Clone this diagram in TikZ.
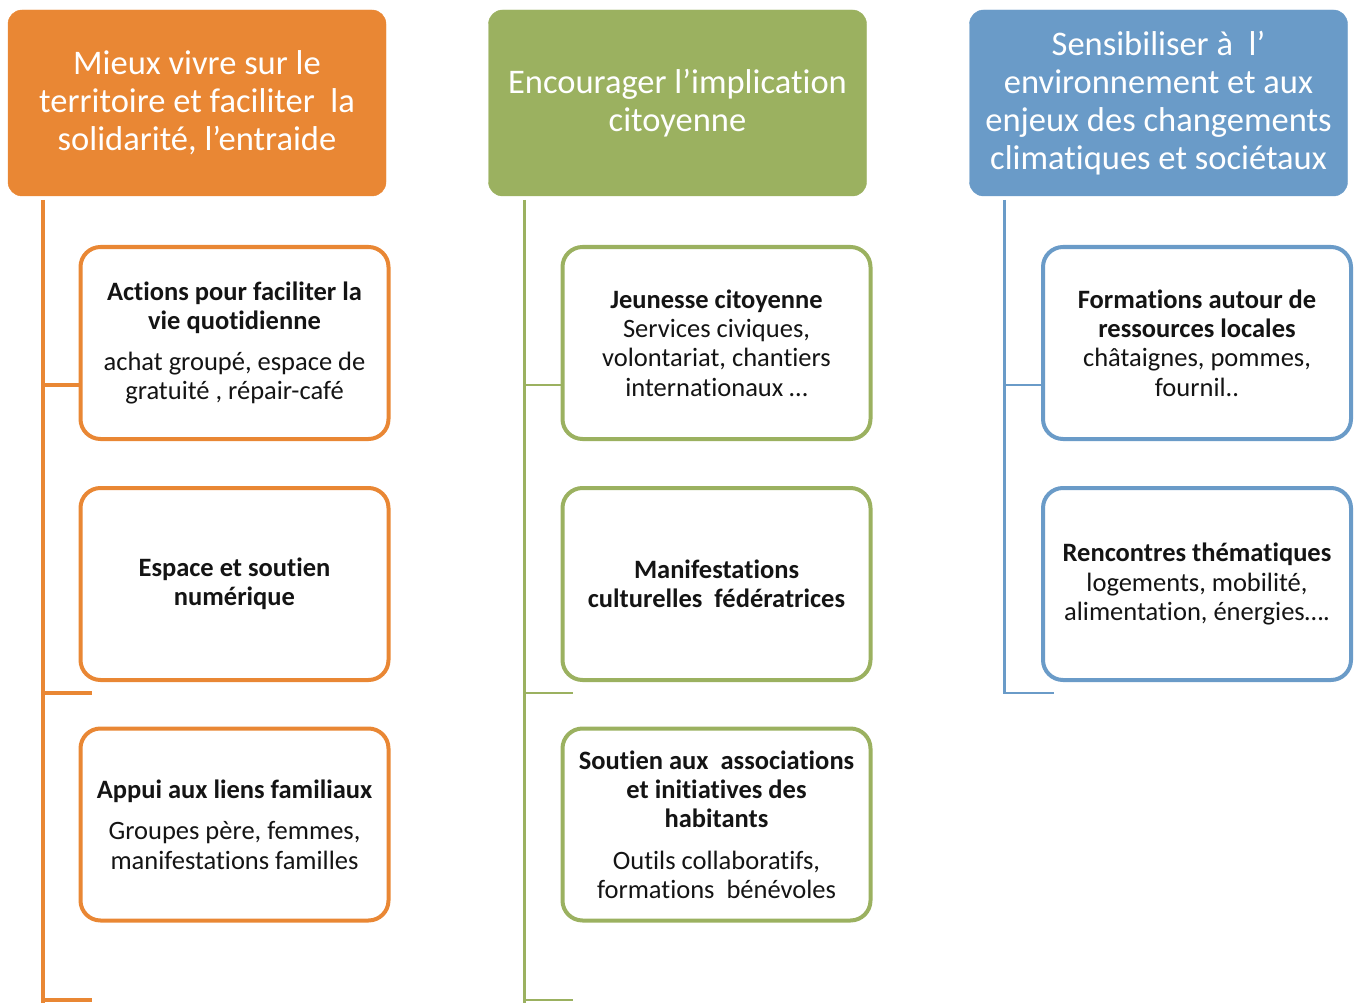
\documentclass[tikz,border=0pt]{standalone}
\usepackage{fontspec}
\setmainfont{Carlito}[Ligatures=NoCommon, RawFeature={-liga;-clig;-calt;-dlig}]
\definecolor{oran}{RGB}{233,135,52}
\definecolor{gree}{RGB}{155,177,96}
\definecolor{blu}{RGB}{106,155,200}
\definecolor{txt}{RGB}{20,20,20}
\begin{document}
\begin{tikzpicture}[x=1pt,y=-1pt,
  header/.style={rectangle, rounded corners=14pt, minimum width=378pt, minimum height=186pt,
    text=white, align=center, font=\fontsize{34.5}{38}\selectfont, inner sep=0pt},
  child/.style={rectangle, rounded corners=20pt, line width=4pt, fill=white,
    minimum width=308pt, minimum height=192pt, text=txt, align=center,
    font=\fontsize{26.5}{29.3}\selectfont, inner sep=0pt},
]
\useasboundingbox (0,0) rectangle (1360,1003);

% headers
\node[header, fill=oran, draw=oran] (h1) at (197,103) {Mieux vivre sur le\\territoire et faciliter\ \ la\\solidarité, l’entraide};
\node[header, fill=gree, draw=gree] (h2) at (677.5,103) {Encourager l’implication\\citoyenne};
\node[header, fill=blu, draw=blu] (h3) at (1158.5,103) {Sensibiliser à\ \ l’\\environnement et aux\\enjeux des changements\\climatiques et sociétaux};

% orange children
\node[child, draw=oran] (c11) at (234.5,343) {\textbf{Actions pour faciliter la}\\\textbf{vie quotidienne}\\[12pt]achat groupé, espace de\\gratuité , répair-café};
\node[child, draw=oran] (c12) at (234.5,584) {\textbf{Espace et soutien}\\\textbf{numérique}};
\node[child, draw=oran] (c13) at (234.5,824.5) {\textbf{Appui aux liens familiaux}\\[12pt]Groupes père, femmes,\\manifestations familles};

% green children
\node[child, draw=gree] (c21) at (716.5,343) {\textbf{Jeunesse citoyenne}\\Services civiques,\\volontariat, chantiers\\internationaux …};
\node[child, draw=gree] (c22) at (716.5,584) {\textbf{Manifestations}\\\textbf{culturelles\ \ fédératrices}};
\node[child, draw=gree] (c23) at (716.5,824.5) {\textbf{Soutien aux\ \ associations}\\\textbf{et initiatives des}\\\textbf{habitants}\\[12pt]Outils collaboratifs,\\formations\ \ bénévoles};

% blue children
\node[child, draw=blu] (c31) at (1197,343) {\textbf{Formations autour de}\\\textbf{ressources locales}\\châtaignes, pommes,\\fournil..};
\node[child, draw=blu] (c32) at (1197,584) {\textbf{Rencontres thématiques}\\logements, mobilité,\\alimentation, énergies….};

% trunk coordinates
\coordinate (t1) at (43,200);
\coordinate (b1) at (43,1003);
\coordinate (j11) at ([yshift=-42pt]c11.west);
\coordinate (e12) at (92,693);
\coordinate (e13) at (92,1000);
\coordinate (t2) at (524.5,200);
\coordinate (b2) at (524.5,1003);
\coordinate (j21) at ([yshift=-42pt]c21.west);
\coordinate (e22) at (573,693);
\coordinate (e23) at (573,1000);
\coordinate (t3) at (1004.5,200);
\coordinate (j31) at ([yshift=-42pt]c31.west);
\coordinate (e32) at (1054,693);

% orange connectors
\draw[oran, line width=4pt] (t1) -- (b1);
\draw[oran, line width=4pt] (t1 |- j11) -- (j11);
\draw[oran, line width=4pt] (t1 |- e12) -- (e12);
\draw[oran, line width=4pt] (t1 |- e13) -- (e13);

% green connectors
\draw[gree, line width=2.5pt] (t2) -- (b2);
\draw[gree, line width=2.5pt] (t2 |- j21) -- (j21);
\draw[gree, line width=2.5pt] (t2 |- e22) -- (e22);
\draw[gree, line width=2.5pt] (t2 |- e23) -- (e23);

% blue connectors
\draw[blu, line width=2.5pt] (t3) -- (t3 |- e32) -- (e32);
\draw[blu, line width=2.5pt] (t3 |- j31) -- (j31);
\end{tikzpicture}
\end{document}
